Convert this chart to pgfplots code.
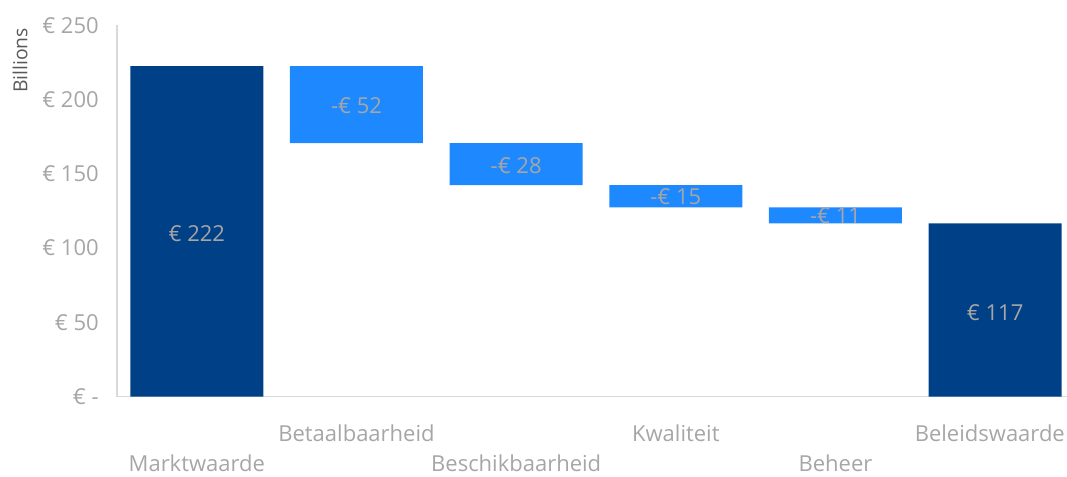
\documentclass[border=0pt]{standalone}
\usepackage{pgfplots}
\pgfplotsset{compat=1.18}
\usepackage{fontspec}
\setmainfont{Open Sans}
\definecolor{darkb}{RGB}{0,64,135}
\definecolor{lightb}{RGB}{30,136,255}
\definecolor{lbl}{RGB}{166,166,166}
\definecolor{axl}{RGB}{217,217,217}
\definecolor{ylab}{RGB}{89,89,89}
\newcommand{\lblfont}{\fontsize{16.5}{19.8}\selectfont}
\begin{document}
\begin{tikzpicture}
\begin{axis}[
  at={(87.75pt,59.5pt)}, anchor=south west,
  scale only axis, width=712.5pt, height=278.6pt,
  xmin=-0.5, xmax=5.45, ymin=0, ymax=250,
  ybar stacked, bar width=0.833,
  axis lines*=left,
  axis line style={axl, line width=1.1pt},
  major tick length=0pt,
  xtick={0,1,2,3,4,5},
  xticklabels={\raisebox{-22.5pt}{Marktwaarde}, Betaalbaarheid, \raisebox{-22.5pt}{Beschikbaarheid}, Kwaliteit, \raisebox{-22.5pt}{Beheer}, \hbox{\kern-8pt Beleidswaarde}},
  xticklabel style={anchor=base, inner sep=0pt, yshift=-33.75pt, text=lbl, font=\lblfont},
  ytick={0,50,100,150,200,250},
  yticklabels={€ -,€ 50,€ 100,€ 150,€ 200,€ 250},
  yticklabel style={anchor=east, inner sep=0pt, xshift=-13.5pt, text=lbl, font=\lblfont},
  ylabel={Billions},
  ylabel style={at={(axis description cs:-0.1021,0.905)}, anchor=center, text=ylab, font=\fontsize{14.5}{17}\selectfont},
]
\addplot[fill=none, draw=none] coordinates {(0,0) (1,170.6) (2,142.4) (3,127.4) (4,116.7) (5,0)};
\addplot[fill=darkb, draw=none] coordinates {(0,222.4) (1,0) (2,0) (3,0) (4,0) (5,116.7)};
\addplot[fill=lightb, draw=none] coordinates {(0,0) (1,51.8) (2,28.2) (3,15.0) (4,10.7) (5,0)};
\end{axis}
\begin{axis}[
  at={(87.75pt,59.5pt)}, anchor=south west,
  scale only axis, width=712.5pt, height=278.6pt,
  xmin=-0.5, xmax=5.45, ymin=0, ymax=250,
  hide axis,
]
\addplot[draw=none, mark=none, nodes near coords, point meta=explicit symbolic,
  nodes near coords align={center},
  every node near coord/.append style={anchor=center, inner sep=0pt, text=lbl, font=\lblfont}]
  coordinates {(0,109.8)[€ 222] (1,195.8)[-€ 52] (2,155.8)[-€ 28] (3,134.4)[-€ 15] (4,121.5)[-€ 11] (5,56.8)[€ 117]};
\end{axis}
\pgfresetboundingbox
\path[use as bounding box] (0,0) rectangle (800.25pt,357pt);
\end{tikzpicture}
\end{document}
